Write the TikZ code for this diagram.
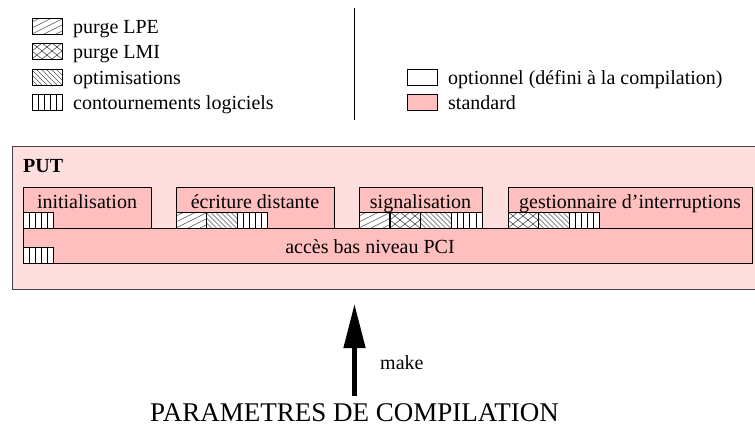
\documentclass[tikz,border=0pt]{standalone}
\usepackage{fontspec}
\setmainfont{Liberation Serif}
\usetikzlibrary{arrows.meta}
\definecolor{stdpink}{HTML}{FFBFBF}
\definecolor{bgpink}{HTML}{FFDEDE}
\definecolor{hatchgray}{HTML}{555555}
\definecolor{framegray}{HTML}{444444}
% #1 = pattern code, #2 = x, #3 = y (top-left), width 30.5, height 16
\newcommand\patbox[3]{%
  \begin{scope}[shift={(#2,#3)}]
    \fill[white] (0,0) rectangle (30.5,16);
    \begin{scope}
      \clip (0,0) rectangle (30.5,16);
      #1
    \end{scope}
    \draw[line width=0.8pt] (0,0) rectangle (30.5,16);
  \end{scope}}
\newcommand\lpelines{\foreach \t in {-36,-24,...,36}{\draw[hatchline] (\t,16) -- (\t+32,0);}}
\newcommand\lmilines{\foreach \t in {-30,-20,...,40}{\draw[hatchline] (\t,16) -- (\t+20,0); \draw[hatchline] (\t,0) -- (\t+20,16);}}
\newcommand\optlines{\foreach \t in {-16,-11,...,32}{\draw[hatchline] (\t,0) -- (\t+16,16);}}
\newcommand\contlines{\foreach \t in {6.1,12.2,18.3,24.4}{\draw[line width=0.8pt] (\t,0) -- (\t,16);}}
\begin{document}
\begin{tikzpicture}[x=1pt,y=-1pt,
  every node/.style={font=\fontsize{20}{24}\selectfont, inner sep=0pt},
  hatchline/.style={line width=0.6pt, draw=hatchgray},
  modbox/.style={draw=black, line width=0.8pt, fill=stdpink, anchor=north west, minimum height=41pt},
  legtext/.style={anchor=base west}]
\useasboundingbox (0,0) rectangle (755,434);

% ---- legend (left)
\patbox{\lpelines}{32}{18}
\patbox{\lmilines}{32}{43}
\patbox{\optlines}{32}{69}
\patbox{\contlines}{32}{94}
\node[legtext] (lgLPE) at (73,33) {purge LPE};
\node[legtext] (lgLMI) at (73,58) {purge LMI};
\node[legtext] (lgOPT) at (73,84) {optimisations};
\node[legtext] (lgCON) at (73,109) {contournements logiciels};

% separator
\coordinate (sepT) at (354,8);
\coordinate (sepB) at (354,120);
\draw[line width=1pt] (sepT) -- (sepB);

% ---- legend (right)
\draw[line width=0.8pt, fill=white] (407,69) rectangle (437,85);
\draw[line width=0.8pt, fill=stdpink] (407,94) rectangle (437,110);
\node[legtext] (lgOpt) at (448,84) {optionnel (défini à la compilation)};
\node[legtext] (lgStd) at (448,109) {standard};

% ---- PUT box
\node[draw=framegray, line width=1.2pt, fill=bgpink, anchor=north west,
      minimum width=750pt, minimum height=143pt] (put) at (12,146) {};
\node[anchor=base west, font=\fontsize{20}{24}\selectfont\bfseries] (putlbl) at (23,172) {PUT};

% modules
\node[modbox, minimum width=128pt] (init) at (23,187) {};
\node[modbox, minimum width=158pt] (ecr) at (176,187) {};
\node[modbox, minimum width=123pt] (sig) at (359,187) {};
\node[modbox, minimum width=244pt] (gest) at (508,187) {};
\node[draw=black, line width=0.8pt, fill=stdpink, anchor=north west,
      minimum width=729pt, minimum height=35pt] (pci) at (23,228) {};

\node[anchor=base] (initT) at (87,208) {initialisation};
\node[anchor=base] (ecrT) at (255,208) {écriture distante};
\node[anchor=base] (sigT) at (420.5,208) {signalisation};
\node[anchor=base] (gestT) at (630,208) {gestionnaire d’interruptions};
\node[anchor=base] (pciT) at (370,253) {accès bas niveau PCI};

% pattern swatches on modules
\patbox{\contlines}{23}{212}
\patbox{\lpelines}{176}{212}
\patbox{\optlines}{206.5}{212}
\patbox{\contlines}{237}{212}
\patbox{\lpelines}{359}{212}
\patbox{\lmilines}{390}{212}
\patbox{\optlines}{420.5}{212}
\patbox{\contlines}{451.5}{212}
\patbox{\lmilines}{508}{212}
\patbox{\optlines}{538.5}{212}
\patbox{\contlines}{569}{212}
\patbox{\contlines}{23}{247}

% ---- make arrow
\node[anchor=base, font=\fontsize{27}{31}\selectfont] (params) at (354.5,421) {PARAMETRES DE COMPILATION};
\coordinate (mkS) at (354.5,396);
\coordinate (mkE) at (354.5,304);
\draw[line width=4.5pt, -{Triangle[width=21pt,length=44pt]}] (mkS) -- (mkE);
\node[anchor=base west] (make) at (380,369) {make};
\end{tikzpicture}
\end{document}
